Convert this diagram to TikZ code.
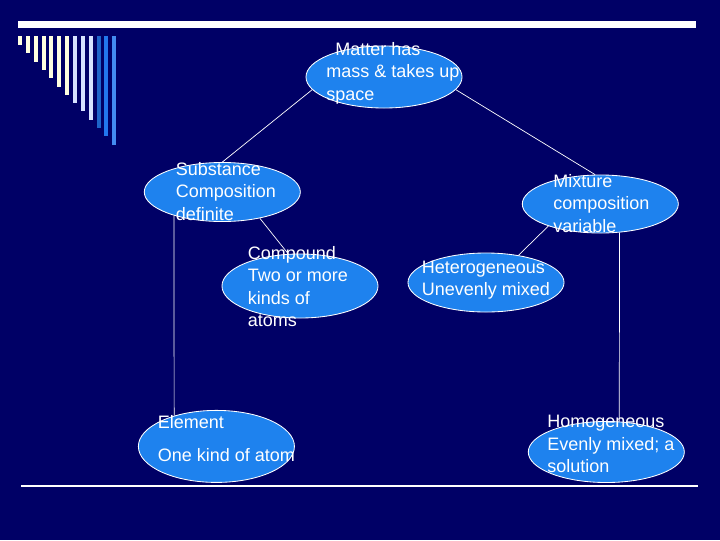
\documentclass[tikz,border=0pt]{standalone}
\usepackage{fontspec}
\setmainfont{Liberation Sans}
\usetikzlibrary{shapes.geometric}
\definecolor{snight}{HTML}{000066}
\definecolor{sbubble}{HTML}{1E82EE}
\definecolor{scream}{HTML}{FFFFE0}
\definecolor{spale}{HTML}{D6E2FF}
\definecolor{sblue}{HTML}{2277EE}
\tikzset{
  bubble/.style={
    ellipse, draw=white, line width=0.6pt, fill=sbubble,
    inner sep=0pt, minimum width=3.9cm, minimum height=#1
  },
  bubble/.default=1.5cm,
  blurb/.style={
    anchor=base west, align=left, text=white, inner sep=0pt,
    font=\fontsize{12.8}{15.65}\selectfont
  },
  link/.style={draw=white, line width=0.5pt}
}

\begin{document}
\begin{tikzpicture}[x=0.025cm, y=-0.025cm]
  \useasboundingbox (0,0) rectangle (720,540);
  \fill[snight] (0,0) rectangle (720,540);

  % slide decoration
  \fill[white] (18,21) rectangle (696,28);
  \fill[white] (21,485) rectangle (698,487);
  \foreach \i/\col in {0/scream,1/scream,2/scream,3/scream,4/scream,5/scream,
    6/scream,7/spale,8/spale,9/spale,10/sblue!85!black,11/sblue,12/sblue!85!white} {
    \fill[\col] (18+7.86*\i,36) rectangle (22+7.86*\i,45+8.3*\i);
  }

  % bubbles
  \node[bubble=1.55cm] (matter) at (384,77) {};
  \node[bubble=1.475cm] (substance) at (222.3,192) {};
  \node[bubble=1.6cm] (compound) at (300,286) {};
  \node[bubble=1.45cm] (mixture) at (600.3,204) {};
  \node[bubble=1.475cm] (hetero) at (486,282.5) {};
  \node[bubble=1.8cm] (element) at (216.4,446.4) {};
  \node[bubble=1.525cm] (homog) at (606.3,452) {};

  % texts (anchored at the last baseline)
  \node[blurb] (matter-t) at (326,100) {\hspace{0.225cm}Matter has\\mass \& takes up\\space};
  \node[blurb] (substance-t) at (175.5,220) {Substance\\Composition\\definite};
  \node[blurb] (compound-t) at (247.5,326) {Compound\\Two or more\\kinds of\\atoms};
  \node[blurb] (mixture-t) at (553,232) {Mixture\\composition\\variable};
  \node[blurb] (hetero-t) at (421.5,295) {Heterogeneous\\Unevenly mixed};
  \node[blurb] (element-t) at (157.5,461) {Element\\[7.8pt]One kind of atom};
  \node[blurb] (homog-t) at (547,472) {Homogeneous\\Evenly mixed; a\\solution};

  % links
  \draw[link] (matter.190) -- (substance.north);
  \draw[link] (matter.350) -- (mixture.100);
  \draw[link] (substance.325) -- (compound.110);
  \draw[link] (substance.206) -- (element.144.5);
  \draw[link] (mixture.203.5) -- (hetero.40.7);
  \draw[link] (mixture.304) -- (homog.67);
\end{tikzpicture}
\end{document}
